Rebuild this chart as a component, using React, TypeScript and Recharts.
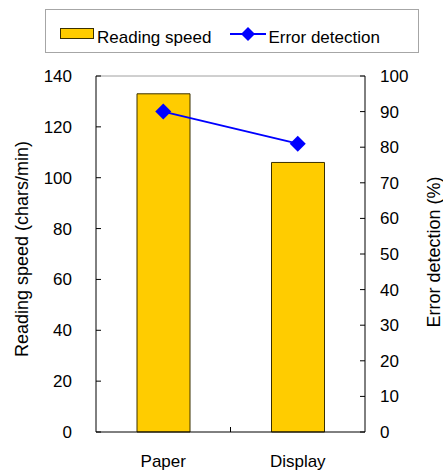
import { ComposedChart, Bar, Line, XAxis, YAxis, Legend, ReferenceLine } from "recharts";

const categories = ["Paper", "Display"];
const readingSpeed = [133, 106];
const errorDetection = [90, 81];
const speedTicks = [0, 20, 40, 60, 80, 100, 120, 140];
const errorTicks = [0, 10, 20, 30, 40, 50, 60, 70, 80, 90, 100];

const data = categories.map((name, i) => ({
  name,
  speed: readingSpeed[i],
  error: errorDetection[i],
}));

const FONT = "'Liberation Sans', Arial, sans-serif";
const tickStyle = { fontSize: 17, fill: "#000", fontFamily: FONT };
const X_TICK_GAP = 23;

function Diamond(props: any) {
  const { cx, cy } = props;
  if (cx == null || cy == null) return null;
  const r = 8;
  return (
    <polygon
      points={`${cx},${cy - r} ${cx + r},${cy} ${cx},${cy + r} ${cx - r},${cy}`}
      fill="#0000ff"
    />
  );
}

// rotated axis title at a fixed spot of the chart
function AxisTitle(props: any) {
  const { text, posX, posY } = props;
  return (
    <text
      x={posX}
      y={posY}
      transform={`rotate(-90, ${posX}, ${posY})`}
      textAnchor="middle"
      dominantBaseline="central"
      fontSize={18}
      fontFamily={FONT}
      fill="#000"
    >
      {text}
    </text>
  );
}

// category label plus the Excel-style tick between the two categories
function CategoryTick(props: any) {
  const { x, y, payload, index } = props;
  const edge =
    index === 0 && payload && payload.offset ? payload.coordinate + payload.offset : null;
  const axisY = y - X_TICK_GAP;
  return (
    <g>
      <text x={x} y={y} dy="0.71em" textAnchor="middle" {...tickStyle}>
        {payload.value}
      </text>
      {edge != null && (
        <line x1={edge} x2={edge} y1={axisY} y2={axisY - 5} stroke="#000" />
      )}
    </g>
  );
}

function LegendBox({ payload }: any) {
  const items = [...(payload || [])].sort(
    (a: any, b: any) => (a.type === "rect" ? 0 : 1) - (b.type === "rect" ? 0 : 1)
  );
  return (
    <div
      style={{
        width: "100%",
        height: "100%",
        border: "1px solid #a6a6a6",
        boxSizing: "border-box",
        display: "flex",
        alignItems: "center",
        paddingLeft: 14,
        paddingTop: 14,
        fontFamily: FONT,
        fontSize: 17,
        color: "#000",
        background: "#fff",
      }}
    >
      {items.map((entry: any) => (
        <div key={entry.value} style={{ display: "flex", alignItems: "center", marginRight: 19 }}>
          {entry.type === "diamond" ? (
            <svg width={36} height={18} style={{ position: "relative", top: -4, marginRight: 2 }}>
              <line x1={0} y1={9} x2={36} y2={9} stroke="#0000ff" strokeWidth={2} />
              <polygon points="18,2 25,9 18,16 11,9" fill="#0000ff" />
            </svg>
          ) : (
            <svg width={34} height={11} style={{ position: "relative", top: -5, marginRight: 3 }}>
              <rect x={0.5} y={0.5} width={33} height={10} fill="#ffcc00" stroke="#3a3000" />
            </svg>
          )}
          <span>{entry.value}</span>
        </div>
      ))}
    </div>
  );
}

export default function App() {
  return (
    <div style={{ position: "absolute", left: 0, top: 0, background: "#fff", fontFamily: FONT }}>
      <ComposedChart
        width={443}
        height={471}
        data={data}
        margin={{ top: 76, right: 0, bottom: 0, left: 0 }}
      >
        <XAxis
          dataKey="name"
          height={39}
          tickLine={false}
          tickSize={0}
          tickMargin={X_TICK_GAP}
          axisLine={{ stroke: "#000" }}
          tick={<CategoryTick />}
        />
        <YAxis
          yAxisId="left"
          width={96}
          domain={[0, 140]}
          ticks={speedTicks}
          tickSize={-5}
          tickMargin={29}
          axisLine={{ stroke: "#000" }}
          tickLine={{ stroke: "#000" }}
          tick={tickStyle}
          label={<AxisTitle text="Reading speed (chars/min)" posX={22} posY={249} />}
        />
        <YAxis
          yAxisId="right"
          orientation="right"
          width={78}
          domain={[0, 100]}
          ticks={errorTicks}
          tickSize={-5}
          tickMargin={20}
          axisLine={{ stroke: "#000" }}
          tickLine={{ stroke: "#000" }}
          tick={{ ...tickStyle, textAnchor: "start" }}
          label={<AxisTitle text="Error detection (%)" posX={434} posY={252} />}
        />
        <ReferenceLine yAxisId="left" y={140} stroke="#a0a0a0" />
        <Legend
          layout="horizontal"
          verticalAlign="middle"
          content={<LegendBox />}
          wrapperStyle={{ left: 45, top: 9, width: 374, height: 44 }}
        />
        <Bar
          yAxisId="left"
          dataKey="speed"
          name="Reading speed"
          fill="#ffcc00"
          stroke="#3a3000"
          barSize={53}
          legendType="rect"
          isAnimationActive={false}
        />
        <Line
          yAxisId="right"
          dataKey="error"
          name="Error detection"
          stroke="#0000ff"
          strokeWidth={2}
          dot={<Diamond />}
          activeDot={false}
          legendType="diamond"
          isAnimationActive={false}
        />
      </ComposedChart>
    </div>
  );
}
